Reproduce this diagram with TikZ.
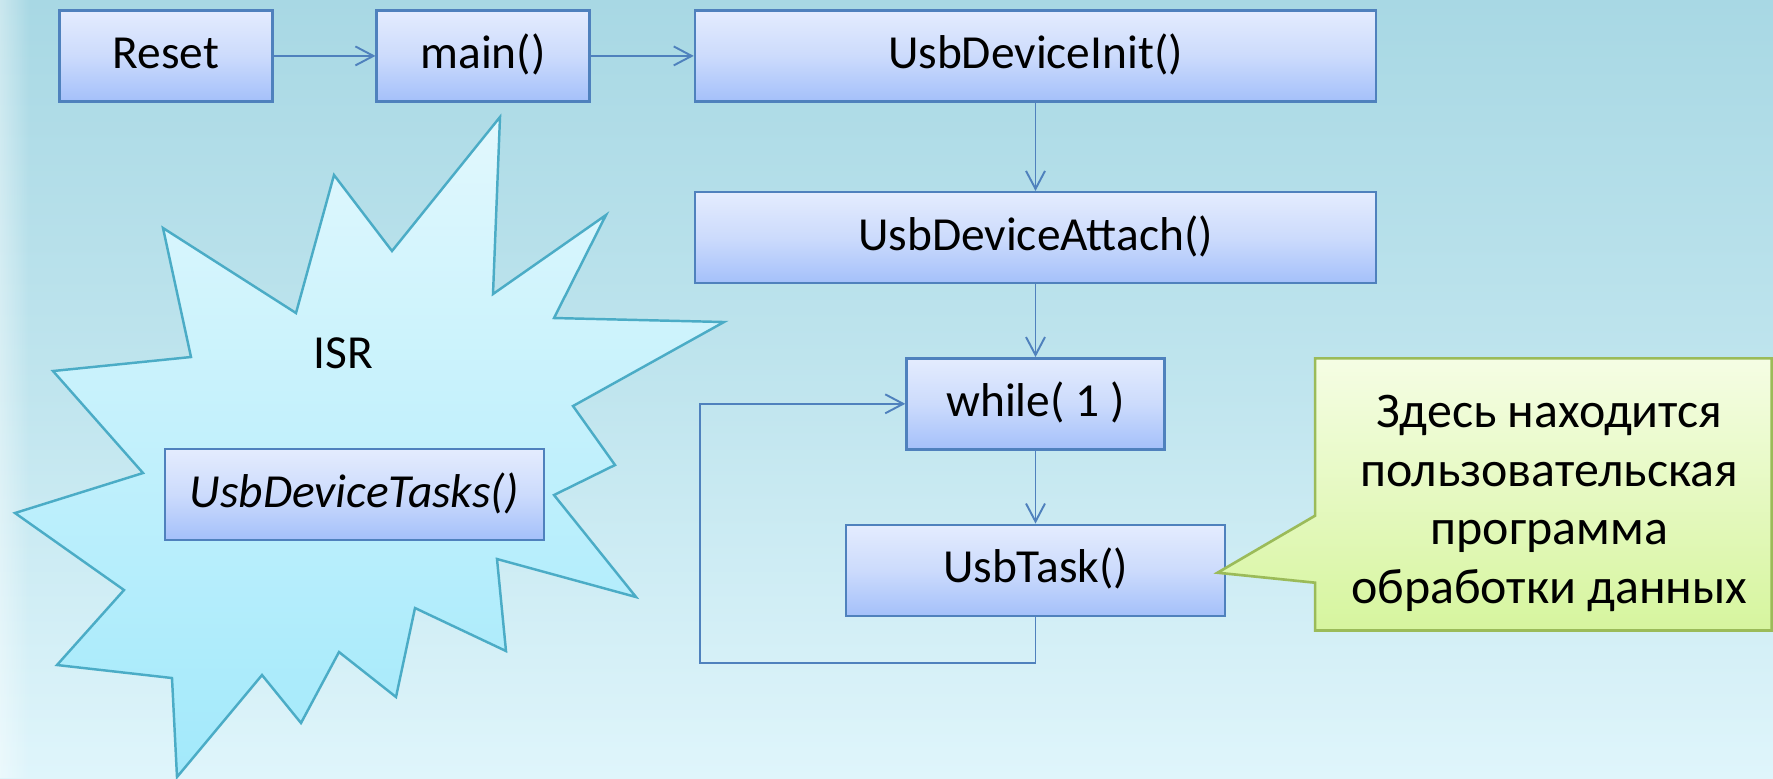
\documentclass[tikz,border=0pt]{standalone}
\usepackage{fontspec}
\setmainfont{Carlito}
\usetikzlibrary{arrows.meta,shapes.callouts,fadings}

\definecolor{bgtop}{RGB}{168,216,228}
\definecolor{bgmid}{RGB}{192,229,238}
\definecolor{bgbot}{RGB}{223,245,251}
\definecolor{boxtop}{RGB}{228,236,254}
\definecolor{boxmid}{RGB}{204,219,252}
\definecolor{boxbot}{RGB}{164,192,250}
\definecolor{boxline}{RGB}{79,129,189}
\definecolor{startop}{RGB}{226,248,253}
\definecolor{starbot}{RGB}{162,233,251}
\definecolor{starline}{RGB}{75,172,198}
\definecolor{notetop}{RGB}{245,253,228}
\definecolor{notebot}{RGB}{214,245,158}
\definecolor{noteline}{RGB}{155,187,89}

\tikzset{
    block/.style={draw=boxline, line width=0.7pt, top color=boxtop, bottom color=boxbot,
        middle color=boxmid, minimum height=0.91cm, inner sep=0pt,
        text height=0.95em, text depth=0.23em, font=\fontsize{13.5}{16}\selectfont},
    flow/.style={draw=boxline, line width=0.55pt, ->},
    note/.style={rectangle callout, draw=noteline, line width=0.75pt, top color=notetop,
        bottom color=notebot, inner sep=0pt, callout pointer width=0.67cm},
    notetext/.style={align=center, inner sep=0pt, font=\fontsize{14.2}{16.6}\selectfont},
}

\begin{document}
\begin{tikzpicture}[>={Straight Barb[length=1.8mm,width=1.9mm]}]
    \useasboundingbox (0,0) rectangle (17.73,-7.78);

    % Draw background
    \shade[top color=bgtop, bottom color=bgbot, middle color=bgmid] (0,0) rectangle (17.73,-7.78);
    \fill[white, path fading=east, fill opacity=0.4] (0,0) rectangle (0.3,-7.78);

    % Draw interrupt star
    \draw[starline, line width=0.7pt, top color=startop, bottom color=starbot]
        (5.00,-1.17) -- (4.93,-2.94) -- (6.06,-2.15) -- (5.54,-3.18) -- (7.24,-3.22)
        -- (5.73,-4.06) -- (6.15,-4.65) -- (5.54,-4.95) -- (6.36,-5.97) -- (4.97,-5.59)
        -- (5.06,-6.51) -- (4.15,-6.08) -- (3.96,-6.97) -- (3.39,-6.52) -- (3.01,-7.23)
        -- (2.62,-6.75) -- (1.77,-7.77) -- (1.72,-6.78) -- (0.57,-6.65) -- (1.24,-5.90)
        -- (0.15,-5.13) -- (1.43,-4.73) -- (0.53,-3.71) -- (1.91,-3.57) -- (1.63,-2.28)
        -- (2.96,-3.13) -- (3.34,-1.75) -- (3.92,-2.51) -- cycle;
    \node[font=\fontsize{13.5}{16}\selectfont] (isr) at (3.436,-3.529) {ISR};
    \node[block, minimum width=3.79cm, font=\fontsize{13.5}{16}\selectfont\itshape] (tasks) at (3.546,-4.945) {UsbDeviceTasks()};

    % Draw main flow
    \node[block, minimum width=2.13cm] (reset) at (1.658,-0.559) {Reset};
    \node[block, minimum width=2.126cm] (main) at (4.83,-0.559) {main()};
    \node[block, minimum width=6.81cm] (init) at (10.355,-0.559) {UsbDeviceInit()};
    \node[block, minimum width=6.81cm] (attach) at (10.355,-2.377) {UsbDeviceAttach()};
    \node[block, minimum width=2.58cm] (while) at (10.355,-4.038) {while( 1 )};
    \node[block, minimum width=3.794cm] (usbtask) at (10.355,-5.703) {UsbTask()};

    \draw[flow] (reset) -- (main);
    \draw[flow] (main) -- (init);
    \draw[flow] (init) -- (attach);
    \draw[flow] (attach) -- (while);
    \draw[flow] (while) -- (usbtask);

    % Draw loop back to while
    \coordinate (loopcorner) at (6.996,-6.633);
    \draw[flow] (usbtask.south) |- (loopcorner) |- (while.west);

    % Draw note
    \coordinate (tip) at (12.175,-5.727);
    \node[note, minimum width=4.565cm, minimum height=2.722cm, callout absolute pointer={(tip)}] (info)
        at (15.433,-4.944) {};
    \node[notetext] (infotext) at ([xshift=0.06cm,yshift=-0.09cm]info.center)
        {Здесь находится\\пользовательская\\программа\\обработки данных};
\end{tikzpicture}
\end{document}
